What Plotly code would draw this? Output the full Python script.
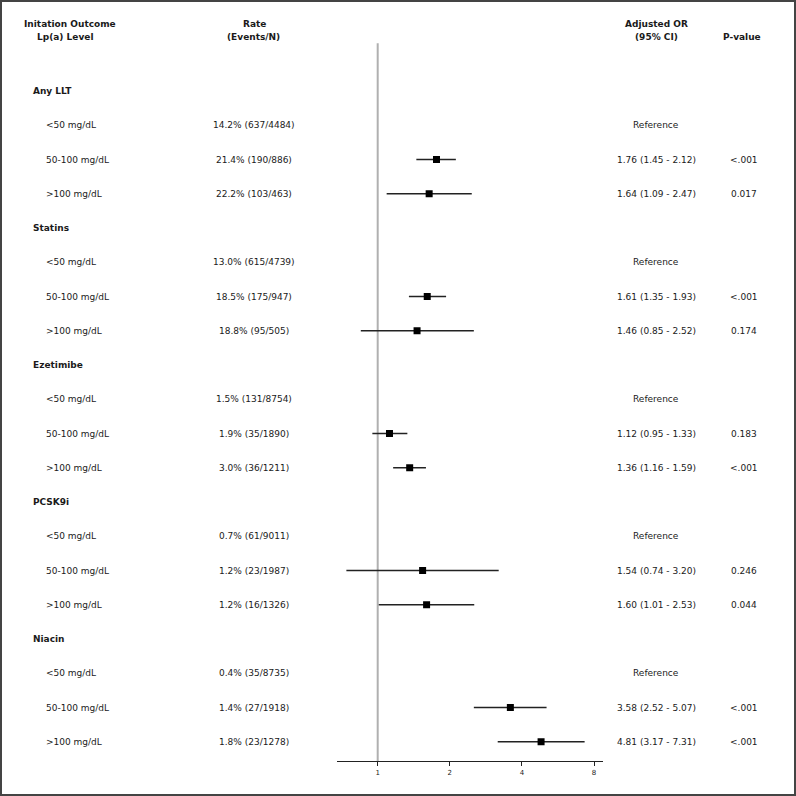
import math
import plotly.graph_objects as go

# ---------------- data ----------------
groups = ["Any LLT", "Statins", "Ezetimibe", "PCSK9i", "Niacin"]
levels = ["<50 mg/dL", "50-100 mg/dL", ">100 mg/dL"]
rates = [
    ["14.2% (637/4484)", "21.4% (190/886)", "22.2% (103/463)"],
    ["13.0% (615/4739)", "18.5% (175/947)", "18.8% (95/505)"],
    ["1.5% (131/8754)", "1.9% (35/1890)", "3.0% (36/1211)"],
    ["0.7% (61/9011)", "1.2% (23/1987)", "1.2% (16/1326)"],
    ["0.4% (35/8735)", "1.4% (27/1918)", "1.8% (23/1278)"],
]
or_est = [[None, 1.76, 1.64], [None, 1.61, 1.46], [None, 1.12, 1.36], [None, 1.54, 1.60], [None, 3.58, 4.81]]
ci_lo = [[None, 1.45, 1.09], [None, 1.35, 0.85], [None, 0.95, 1.16], [None, 0.74, 1.01], [None, 2.52, 3.17]]
ci_hi = [[None, 2.12, 2.47], [None, 1.93, 2.52], [None, 1.33, 1.59], [None, 3.20, 2.53], [None, 5.07, 7.31]]
pvals = [[None, "<.001", "0.017"], [None, "<.001", "0.174"], [None, "0.183", "<.001"],
         [None, "0.246", "0.044"], [None, "<.001", "<.001"]]
tick_vals = [1, 2, 4, 8]
tick_text = ["1", "2", "4", "8"]

# ---------------- layout helpers ----------------
W = H = 796
ROW0_PX = 91.0
ROW_STEP = 34.25
AXIS_PX = 761.0
X_LEFT_PX, X_RIGHT_PX = 337.3, 602.7
X1_PX, OCT_PX = 377.7, 72.1

def px_to_paper_x(px):
    return px / W

def px_to_paper_y(py):
    return 1 - py / H

xr_lo = 2 ** ((X_LEFT_PX - X1_PX) / OCT_PX)
xr_hi = 2 ** ((X_RIGHT_PX - X1_PX) / OCT_PX)
y_top = -ROW0_PX / ROW_STEP
y_bot = (AXIS_PX - ROW0_PX) / ROW_STEP

FONT = "DejaVu Sans"
TXT = "#1a1a1a"

fig = go.Figure()
annotations = []

def add_text(x_px, y, text, anchor="left", bold=False, size=9, yref="y"):
    annotations.append(dict(
        x=px_to_paper_x(x_px), xref="paper", y=y, yref=yref,
        text=("<b>%s</b>" % text) if bold else text,
        showarrow=False, xanchor=anchor, yanchor="middle",
        font=dict(family=FONT, size=size, color=TXT),
    ))

line_x, line_y, pt_x, pt_y = [], [], [], []
row = 0
for gi, g in enumerate(groups):
    add_text(31, row, g, bold=True)
    row += 1
    for li, lv in enumerate(levels):
        add_text(44, row, lv)
        add_text(253.5, row, rates[gi][li], anchor="center")
        if or_est[gi][li] is None:
            add_text(656, row, "Reference", anchor="center")
        else:
            add_text(656, row, "%.2f (%.2f - %.2f)" % (or_est[gi][li], ci_lo[gi][li], ci_hi[gi][li]),
                     anchor="center")
            add_text(743.5, row, pvals[gi][li], anchor="center")
            line_x += [ci_lo[gi][li], ci_hi[gi][li], None]
            line_y += [row, row, None]
            pt_x.append(or_est[gi][li])
            pt_y.append(row)
        row += 1

# header
hdr = [
    (70, 24.3, "Initation Outcome"), (65, 37.3, "Lp(a) Level"),
    (254.5, 24.3, "Rate"), (253.5, 37.3, "(Events/N)"),
    (656, 24.3, "Adjusted OR"), (656, 37.3, "(95% CI)"),
    (742, 37.3, "P-value"),
]
for xp, yp, t in hdr:
    add_text(xp, px_to_paper_y(yp), t, anchor="center", bold=True, yref="paper")

fig.add_trace(go.Scatter(x=line_x, y=line_y, mode="lines",
                         line=dict(color="#222222", width=1.5), hoverinfo="skip", showlegend=False))
fig.add_trace(go.Scatter(x=pt_x, y=pt_y, mode="markers",
                         marker=dict(symbol="square", size=7, color="black"), showlegend=False))

shapes = [
    # reference line at OR = 1
    dict(type="line", xref="x", yref="paper", x0=1, x1=1,
         y0=px_to_paper_y(AXIS_PX), y1=px_to_paper_y(43.3),
         line=dict(color="#b0b0b0", width=2), layer="below"),
    # outer frame
    dict(type="rect", xref="paper", yref="paper",
         x0=px_to_paper_x(1), x1=px_to_paper_x(795), y0=px_to_paper_y(795), y1=px_to_paper_y(1),
         line=dict(color="#444444", width=2)),
]

fig.update_layout(
    width=W, height=H, margin=dict(l=0, r=0, t=0, b=0),
    paper_bgcolor="white", plot_bgcolor="white",
    showlegend=False, annotations=annotations, shapes=shapes,
    xaxis=dict(type="log", range=[math.log10(xr_lo), math.log10(xr_hi)],
               domain=[px_to_paper_x(X_LEFT_PX), px_to_paper_x(X_RIGHT_PX)],
               tickvals=tick_vals, ticktext=tick_text, ticks="outside", ticklen=4,
               tickcolor="#222", tickwidth=1,
               showline=True, linecolor="#222", linewidth=1.2, showgrid=False, zeroline=False,
               tickfont=dict(family=FONT, size=7, color=TXT)),
    yaxis=dict(range=[y_bot, y_top], domain=[px_to_paper_y(AXIS_PX), 1], visible=False,
               showgrid=False, zeroline=False),
)

fig.write_html("out.html", config={"displayModeBar": False},
               post_script="document.body.style.margin='0';document.body.style.overflow='hidden';")
